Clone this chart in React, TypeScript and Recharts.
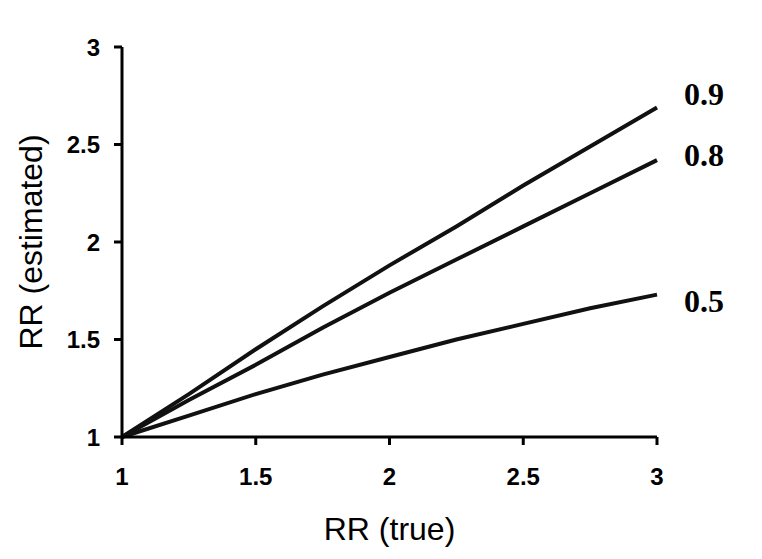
import React from 'react';
import { LineChart, Line, XAxis, YAxis } from 'recharts';

const rrTrue = [1, 1.25, 1.5, 1.75, 2, 2.25, 2.5, 2.75, 3];
const est09 = [1, 1.22, 1.45, 1.67, 1.88, 2.08, 2.29, 2.49, 2.69];
const est08 = [1, 1.19, 1.37, 1.56, 1.74, 1.91, 2.08, 2.25, 2.42];
const est05 = [1, 1.11, 1.22, 1.32, 1.41, 1.5, 1.58, 1.66, 1.73];
const seriesNames = ['0.9', '0.8', '0.5'];
const ticks = [1, 1.5, 2, 2.5, 3];

const chartData = rrTrue.map((x, i) => ({
  x,
  s09: est09[i],
  s08: est08[i],
  s05: est05[i],
}));

// nudges for the end-of-line labels so they don't sit right on the line
const labelDy: Record<string, number> = { '0.9': -13, '0.8': -5, '0.5': 6 };

const sans = '"Liberation Sans", Arial, sans-serif';
const serif = '"Liberation Serif", "Times New Roman", serif';

const EndLabel = ({ name, x, y, index }: any) => {
  if (index !== rrTrue.length - 1) return null;
  return (
    <text
      x={x + 27}
      y={y + labelDy[name]}
      dominantBaseline="central"
      fontFamily={serif}
      fontWeight="bold"
      fontSize={32}
      fill="#000"
    >
      {name}
    </text>
  );
};

const XTick = ({ x, y, payload }: any) => (
  <text x={x} y={y} dy="0.71em" textAnchor="middle" fontFamily={sans} fontWeight="bold" fontSize={24} fill="#000">
    {payload.value}
  </text>
);

const YTick = ({ x, y, payload }: any) => (
  <text x={x} y={y} dy="0.355em" textAnchor="end" fontFamily={sans} fontWeight="bold" fontSize={24} fill="#000">
    {payload.value}
  </text>
);

const App: React.FC = () => {
  const keys = ['s09', 's08', 's05'];
  return (
    <div style={{ position: 'absolute', left: 0, top: 0, background: '#fff' }}>
      <LineChart width={762} height={559} data={chartData} margin={{ top: 47, right: 105, left: 0, bottom: 0 }}>
        <XAxis
          dataKey="x"
          type="number"
          domain={[1, 3]}
          ticks={ticks}
          height={122}
          tickSize={8}
          tickMargin={23}
          tick={<XTick />}
          axisLine={{ stroke: '#000', strokeWidth: 3 }}
          tickLine={{ stroke: '#000', strokeWidth: 3 }}
          label={{
            value: 'RR (true)',
            position: 'insideBottom',
            offset: 19,
            style: { fontFamily: sans, fontSize: 32, fill: '#000' },
          }}
        />
        <YAxis
          type="number"
          domain={[1, 3]}
          ticks={ticks}
          width={122}
          tickSize={8}
          tickMargin={14}
          tick={<YTick />}
          axisLine={{ stroke: '#000', strokeWidth: 3 }}
          tickLine={{ stroke: '#000', strokeWidth: 3 }}
          label={{
            value: 'RR (estimated)',
            angle: -90,
            position: 'insideLeft',
            offset: 31,
            style: { fontFamily: sans, fontSize: 32, fill: '#000', textAnchor: 'middle' },
          }}
        />
        {keys.map((k, i) => (
          <Line
            key={k}
            dataKey={k}
            stroke="#111"
            strokeWidth={4}
            dot={false}
            isAnimationActive={false}
            label={<EndLabel name={seriesNames[i]} />}
          />
        ))}
      </LineChart>
    </div>
  );
};

export default App;
